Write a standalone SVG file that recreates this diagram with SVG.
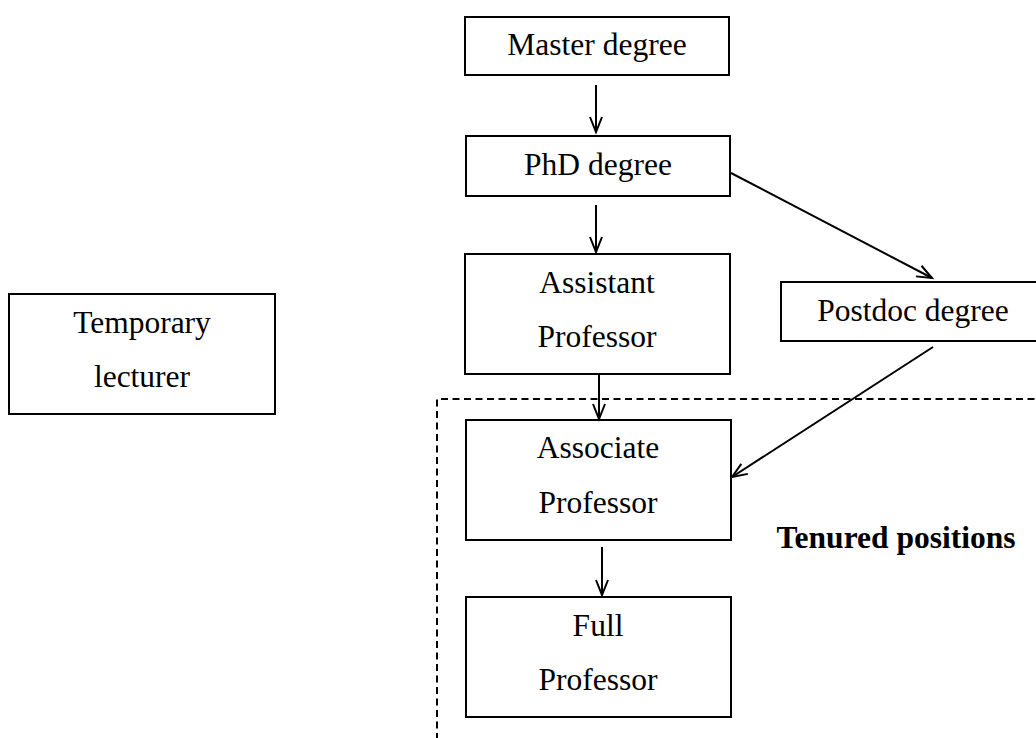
<svg xmlns="http://www.w3.org/2000/svg" width="1036" height="738" viewBox="0 0 1036 738">
<style>
.box{fill:#fff;stroke:#000;stroke-width:2}
.t{font-family:"Liberation Serif","Times New Roman",serif;font-size:31.5px;fill:#000;text-anchor:middle}
.b{font-weight:bold}
.c{fill:none;stroke:#000;stroke-width:2}
.d{fill:none;stroke:#000;stroke-width:2;stroke-dasharray:7 4.5}
</style>
<defs>
<marker id="ah" markerWidth="20" markerHeight="20" viewBox="-16 -8 20 16" refX="0" refY="0" orient="auto" markerUnits="userSpaceOnUse">
<path d="M-15,-6 L0,0 L-15,6" fill="none" stroke="#000" stroke-width="2"/>
</marker>
</defs>
<rect width="1036" height="738" fill="#fff"/>
<g id="tenured-region">
<path class="d" d="M437,740 L437,399 L1040,399"/>
<text class="t b" x="896" y="548">Tenured positions</text>
</g>
<g id="master"><rect class="box" x="465" y="17" width="264" height="58"/><text class="t" x="597" y="55">Master degree</text></g>
<g id="phd"><rect class="box" x="466" y="136" width="264" height="60"/><text class="t" x="598" y="175">PhD degree</text></g>
<g id="assistant"><rect class="box" x="465" y="254" width="265" height="120"/><text class="t" x="597" y="293">Assistant</text><text class="t" x="597" y="347">Professor</text></g>
<g id="postdoc"><rect class="box" x="781" y="282" width="270" height="59"/><text class="t" x="913" y="321">Postdoc degree</text></g>
<g id="associate"><rect class="box" x="466" y="420" width="265" height="120"/><text class="t" x="598" y="458">Associate</text><text class="t" x="598" y="513">Professor</text></g>
<g id="full"><rect class="box" x="466" y="597" width="265" height="120"/><text class="t" x="598" y="636">Full</text><text class="t" x="598" y="690">Professor</text></g>
<g id="temporary"><rect class="box" x="9" y="294" width="266" height="120"/><text class="t" x="142" y="333">Temporary</text><text class="t" x="142" y="387">lecturer</text></g>
<g id="connectors">
<line class="c" x1="596" y1="85" x2="596" y2="132" marker-end="url(#ah)"/>
<line class="c" x1="596" y1="205" x2="596" y2="252" marker-end="url(#ah)"/>
<line class="c" x1="599" y1="374" x2="599" y2="419" marker-end="url(#ah)"/>
<line class="c" x1="602" y1="547" x2="602" y2="595" marker-end="url(#ah)"/>
<line class="c" x1="731" y1="173" x2="932" y2="278" marker-end="url(#ah)"/>
<line class="c" x1="933" y1="347" x2="732" y2="477" marker-end="url(#ah)"/>
</g>
</svg>
